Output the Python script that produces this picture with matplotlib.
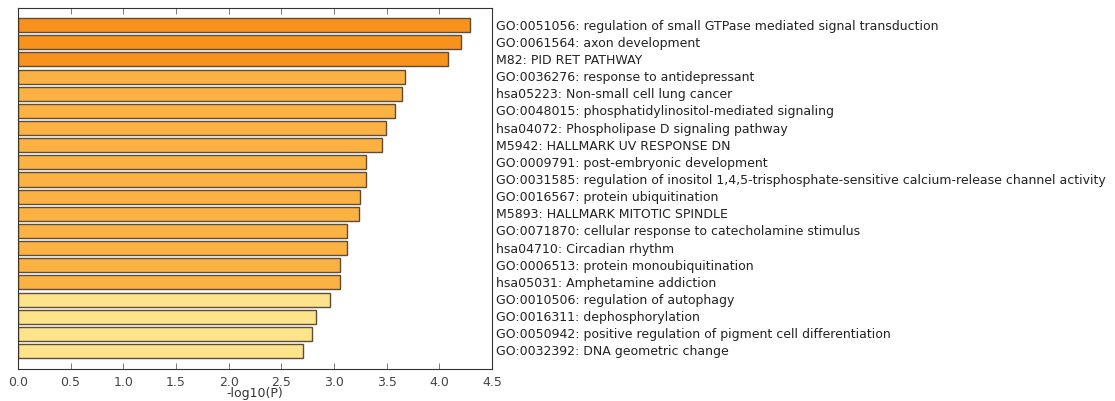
import matplotlib
import matplotlib.pyplot as plt
import matplotlib.transforms as mtransforms

matplotlib.use('agg')

terms = [
    'GO:0051056: regulation of small GTPase mediated signal transduction',
    'GO:0061564: axon development',
    'M82: PID RET PATHWAY',
    'GO:0036276: response to antidepressant',
    'hsa05223: Non-small cell lung cancer',
    'GO:0048015: phosphatidylinositol-mediated signaling',
    'hsa04072: Phospholipase D signaling pathway',
    'M5942: HALLMARK UV RESPONSE DN',
    'GO:0009791: post-embryonic development',
    'GO:0031585: regulation of inositol 1,4,5-trisphosphate-sensitive calcium-release channel activity',
    'GO:0016567: protein ubiquitination',
    'M5893: HALLMARK MITOTIC SPINDLE',
    'GO:0071870: cellular response to catecholamine stimulus',
    'hsa04710: Circadian rhythm',
    'GO:0006513: protein monoubiquitination',
    'hsa05031: Amphetamine addiction',
    'GO:0010506: regulation of autophagy',
    'GO:0016311: dephosphorylation',
    'GO:0050942: positive regulation of pigment cell differentiation',
    'GO:0032392: DNA geometric change',
]
neg_log_p = [4.29, 4.21, 4.08, 3.67, 3.65, 3.58, 3.49, 3.46, 3.30, 3.30,
             3.25, 3.24, 3.12, 3.12, 3.06, 3.06, 2.96, 2.83, 2.79, 2.71]
# colour group per bar: 0 = strongest, 1 = middle, 2 = weakest
groups = [0, 0, 0, 1, 1, 1, 1, 1, 1, 1,
          1, 1, 1, 1, 1, 1, 2, 2, 2, 2]
group_colors = ['#F7921C', '#FBB242', '#FDE38A']

fig = plt.figure(figsize=(11.15, 4.02), dpi=100)
ax = fig.add_axes([0.0161, 0.0796, 0.4251, 0.898])

ypos = list(range(len(terms)))
ax.barh(ypos, neg_log_p, height=0.82, left=0,
        color=[group_colors[g] for g in groups],
        edgecolor='#5e4c3a', linewidth=1.0)

ax.set_xlim(0, 4.5)
ax.set_ylim(20.05, -1.0)
ax.set_xticks([i * 0.5 for i in range(10)])
ax.set_yticks([])
ax.tick_params(axis='x', direction='in', top=True, length=4, width=0.6,
               labelsize=9, labelcolor='#444444', color='#666666', pad=4)
for s in ax.spines.values():
    s.set_linewidth(0.8)
    s.set_color('#333333')
ax.set_xlabel('-log10(P)', fontsize=9, color='#333333', labelpad=-1)

trans = mtransforms.blended_transform_factory(ax.transAxes, ax.transData)
for y, t in zip(ypos, terms):
    ax.text(1.008, y, t, transform=trans, fontsize=9, color='#222222',
            va='center', ha='left')

fig.savefig('out.png', dpi=100)
